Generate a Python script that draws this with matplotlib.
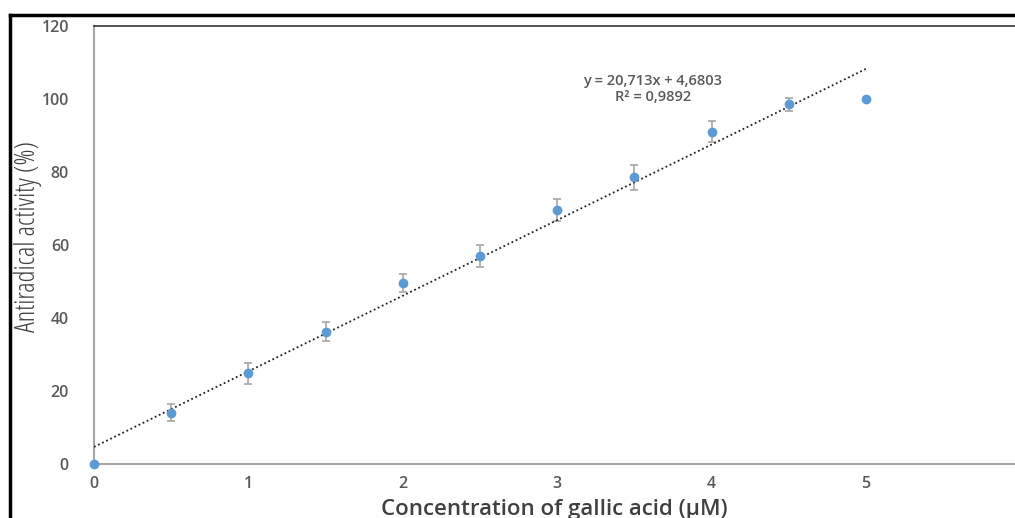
import matplotlib.pyplot as plt
from matplotlib.lines import Line2D

conc = [0, 0.5, 1, 1.5, 2, 2.5, 3, 3.5, 4, 4.5, 5]
activity = [0, 14.1, 24.9, 36.2, 49.6, 57.0, 69.6, 78.5, 91.0, 98.5, 99.9]
err = [0, 2.3, 2.9, 2.6, 2.5, 3.1, 3.0, 3.3, 2.9, 1.9, 0]
slope, intercept = 20.713, 4.6803  # линия тренда из подписи на графике
fit_x = [0, 5]

plt.rcParams['font.family'] = ['Open Sans', 'DejaVu Sans']
grey = '#595959'

fig = plt.figure(figsize=(10.15, 5.18), dpi=100)
ax = fig.add_axes([94 / 1015, 54 / 518, 921 / 1015, 438 / 518])

# планки погрешностей (без крайних точек)
ex = [c for c, e in zip(conc, err) if e > 0]
ey = [a for a, e in zip(activity, err) if e > 0]
ee = [e for e in err if e > 0]
ax.errorbar(ex, ey, yerr=ee, fmt='none', ecolor='#a5a5a5', elinewidth=1.2,
            capsize=3, capthick=1.2, zorder=2)
ax.plot(fit_x, [intercept + slope * x for x in fit_x], color='#222222',
        linestyle=(0, (1, 1.5)), linewidth=1.3, zorder=3)
ax.plot(conc, activity, 'o', color='#5b9bd5', markersize=6, zorder=4,
        clip_on=False)

fig.text(653 / 1015, 1 - 81 / 518, 'y = 20,713x + 4,6803', ha='center',
         va='center', fontsize=10.5, color=grey, fontweight='semibold')
fig.text(653 / 1015, 1 - 97 / 518, 'R² = 0,9892', ha='center', va='center',
         fontsize=10.5, color=grey, fontweight='semibold')

ax.set_xlim(0, 921 / 154.4)
ax.set_ylim(0, 120)
ax.set_xticks([0, 1, 2, 3, 4, 5])
ax.set_yticks(range(0, 121, 20))
ax.tick_params(length=0, labelsize=11.5, labelcolor=grey)
ax.tick_params(axis='x', pad=9)
ax.tick_params(axis='y', pad=18)
for lab in ax.get_xticklabels() + ax.get_yticklabels():
    lab.set_fontweight('semibold')

for s in ['left', 'bottom']:
    ax.spines[s].set_color('#a6a6a6')
    ax.spines[s].set_linewidth(1.5)
ax.spines['top'].set_color('#333333')
ax.spines['top'].set_linewidth(1.2)
ax.spines['right'].set_visible(False)

ax.set_xlabel('Concentration of gallic acid (μM)', fontsize=16, color='#404040',
              fontweight='semibold', labelpad=5)
ax.set_ylabel('Antiradical activity (%)', fontsize=19.5, color='#404040',
              fontstretch='condensed')
ax.yaxis.set_label_coords(42 / 1015, 1 - 237 / 518, transform=fig.transFigure)

# чёрная рамка скриншота
fig.add_artist(Line2D([10 / 1015, 10 / 1015], [0, 503 / 518], color='black',
                      linewidth=2.5, transform=fig.transFigure))
fig.add_artist(Line2D([10 / 1015, 1], [503 / 518, 503 / 518], color='black',
                      linewidth=2.5, transform=fig.transFigure))

fig.savefig('out.png', dpi=100)
